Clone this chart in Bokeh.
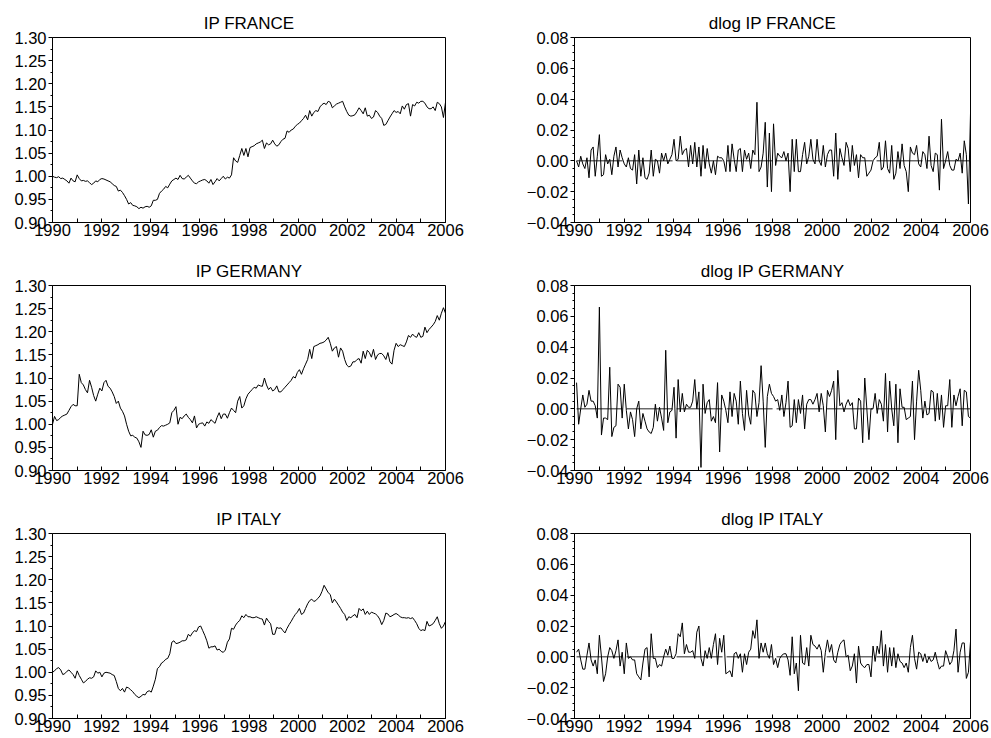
import numpy as np
from bokeh.plotting import figure
from bokeh.layouts import gridplot
from bokeh.models import FixedTicker, CustomJSTickFormatter, Range1d
from bokeh.embed import file_html
from bokeh.resources import INLINE

# ---------------- data (monthly, 1990M01-2005M12) ----------------
ip_france = [
    1.000, 0.998, 0.997, 0.999, 0.995, 0.996, 0.993, 0.990, 0.985, 0.996, 0.990, 0.988,
    1.003, 0.995, 0.990, 0.991, 0.989, 0.990, 0.986, 0.982, 0.985, 0.990, 0.988, 0.993,
    0.995, 0.994, 0.992, 0.990, 0.988, 0.984, 0.980, 0.978, 0.968, 0.970, 0.965, 0.958,
    0.950, 0.940, 0.943, 0.937, 0.936, 0.934, 0.930, 0.933, 0.931, 0.934, 0.935, 0.933,
    0.936, 0.948, 0.948, 0.950, 0.963, 0.968, 0.972, 0.978, 0.975, 0.983, 0.990, 0.993,
    0.996, 0.993, 1.002, 0.995, 0.994, 0.998, 1.002, 0.996, 0.990, 0.985, 0.984, 0.988,
    0.990, 0.992, 0.993, 0.990, 0.985, 0.993, 0.982, 0.988, 0.995, 0.990, 0.995, 1.000,
    0.994, 0.998, 0.996, 1.003, 1.040, 1.033, 1.030, 1.045, 1.060, 1.045, 1.060, 1.042,
    1.062, 1.064, 1.066, 1.070, 1.072, 1.074, 1.078, 1.060, 1.072, 1.068, 1.070, 1.078,
    1.070, 1.065, 1.068, 1.075, 1.080, 1.082, 1.098, 1.095, 1.100, 1.102, 1.108, 1.112,
    1.115, 1.120, 1.125, 1.132, 1.122, 1.142, 1.130, 1.138, 1.142, 1.140, 1.150, 1.155,
    1.158, 1.155, 1.162, 1.160, 1.148, 1.152, 1.156, 1.158, 1.160, 1.162, 1.150, 1.140,
    1.132, 1.130, 1.131, 1.133, 1.140, 1.148, 1.142, 1.135, 1.148, 1.130, 1.132, 1.125,
    1.128, 1.142, 1.138, 1.130, 1.125, 1.110, 1.112, 1.120, 1.128, 1.135, 1.142, 1.138,
    1.140, 1.135, 1.152, 1.145, 1.155, 1.157, 1.130, 1.155, 1.152, 1.160, 1.158, 1.162,
    1.162, 1.158, 1.150, 1.146, 1.146, 1.150, 1.142, 1.160, 1.157, 1.150, 1.127, 1.160,
]

ip_germany = [
    1.000, 1.017, 1.008, 1.010, 1.015, 1.018, 1.020, 1.022, 1.030, 1.038, 1.043, 1.040,
    1.040, 1.108, 1.090, 1.085, 1.075, 1.068, 1.095, 1.080, 1.062, 1.050, 1.065, 1.078,
    1.072, 1.090, 1.095, 1.082, 1.078, 1.070, 1.060, 1.045, 1.050, 1.035, 1.028, 1.018,
    1.000, 0.985, 0.975, 0.976, 0.972, 0.970, 0.962, 0.950, 0.985, 0.977, 0.976, 0.978,
    0.988, 0.972, 0.985, 0.987, 0.993, 0.997, 0.996, 0.998, 1.000, 1.003, 1.025, 1.030,
    1.038, 1.000, 1.015, 1.012, 1.018, 1.022, 1.015, 1.010, 1.003, 1.018, 0.992, 1.000,
    1.002, 1.003, 0.996, 1.005, 1.002, 1.010, 1.006, 1.002, 1.015, 1.025, 1.012, 1.022,
    1.022, 1.013, 1.025, 1.035, 1.030, 1.025, 1.050, 1.060, 1.035, 1.040, 1.055, 1.065,
    1.070, 1.075, 1.080, 1.078, 1.085, 1.083, 1.082, 1.100, 1.085, 1.075, 1.080, 1.072,
    1.075, 1.083, 1.070, 1.070, 1.075, 1.080, 1.085, 1.090, 1.095, 1.103, 1.100, 1.112,
    1.118, 1.108, 1.120, 1.130, 1.140, 1.162, 1.142, 1.168, 1.170, 1.172, 1.175, 1.176,
    1.178, 1.182, 1.188, 1.175, 1.158, 1.165, 1.168, 1.145, 1.165, 1.158, 1.140, 1.128,
    1.124, 1.126, 1.135, 1.135, 1.140, 1.142, 1.132, 1.158, 1.142, 1.160, 1.155, 1.145,
    1.162, 1.140, 1.150, 1.153, 1.153, 1.148, 1.140, 1.155, 1.135, 1.130, 1.160, 1.175,
    1.168, 1.172, 1.170, 1.168, 1.178, 1.192, 1.188, 1.195, 1.190, 1.188, 1.198, 1.188,
    1.190, 1.210, 1.198, 1.205, 1.210, 1.215, 1.222, 1.235, 1.225, 1.240, 1.252, 1.240,
]

ip_italy = [
    1.000, 1.003, 1.008, 1.010, 1.005, 0.995, 0.997, 1.002, 1.005, 1.000, 0.995, 0.987,
    1.003, 0.993, 0.985, 0.977, 0.980, 0.985, 0.988, 0.987, 0.990, 1.003, 0.998, 1.000,
    0.990, 0.998, 1.000, 0.999, 0.998, 0.995, 0.993, 0.980, 0.965, 0.960, 0.965, 0.957,
    0.968, 0.966, 0.962, 0.958, 0.952, 0.948, 0.945, 0.948, 0.952, 0.951, 0.958, 0.960,
    0.957, 0.970, 0.985, 1.008, 1.012, 1.020, 1.023, 1.028, 1.030, 1.040, 1.065, 1.068,
    1.062, 1.063, 1.065, 1.068, 1.068, 1.070, 1.082, 1.078, 1.085, 1.090, 1.088, 1.098,
    1.100, 1.090, 1.080, 1.068, 1.052, 1.055, 1.055, 1.057, 1.048, 1.050, 1.045, 1.043,
    1.048, 1.065, 1.072, 1.095, 1.093, 1.102, 1.108, 1.112, 1.122, 1.118, 1.125, 1.120,
    1.120, 1.118, 1.118, 1.120, 1.118, 1.116, 1.115, 1.102, 1.117, 1.110, 1.105, 1.082,
    1.082, 1.097, 1.095, 1.096, 1.090, 1.085, 1.095, 1.103, 1.110, 1.118, 1.125, 1.130,
    1.138, 1.125, 1.128, 1.138, 1.148, 1.155, 1.158, 1.153, 1.155, 1.160, 1.165, 1.175,
    1.188, 1.180, 1.172, 1.168, 1.150, 1.158, 1.152, 1.145, 1.138, 1.130, 1.125, 1.112,
    1.120, 1.118, 1.122, 1.125, 1.118, 1.138, 1.133, 1.137, 1.125, 1.132, 1.125, 1.130,
    1.128, 1.126, 1.122, 1.115, 1.103, 1.112, 1.128, 1.126, 1.120, 1.122, 1.125, 1.127,
    1.124, 1.120, 1.118, 1.118, 1.117, 1.118, 1.116, 1.118, 1.112, 1.105, 1.095, 1.090,
    1.092, 1.090, 1.110, 1.100, 1.102, 1.105, 1.112, 1.120, 1.105, 1.095, 1.100, 1.110,
]

# dlog series, 1990M02-2005M12
dlog_france = [
    0.000, -0.004, 0.003, -0.002, -0.005, 0.002, -0.011, 0.007, 0.009, -0.010, 0.003,
    0.017, -0.010, -0.009, 0.004, -0.002, 0.001, -0.009, 0.003, 0.009, -0.004, 0.007, 0.002,
    -0.002, -0.004, 0.002, -0.005, -0.006, 0.004, -0.015, 0.007, -0.010, 0.002, -0.011, -0.012,
    -0.008, 0.007, -0.010, 0.001, 0.000, -0.008, 0.005, 0.000, 0.005, -0.002, 0.001, 0.004,
    0.014, 0.000, 0.001, 0.016, 0.004, 0.007, 0.008, -0.004, 0.010, -0.002, 0.012, -0.004,
    0.009, -0.010, 0.010, -0.005, 0.008, -0.002, -0.008, 0.000, -0.009, 0.003, 0.002, 0.002,
    0.000, -0.007, 0.010, -0.007, 0.011, 0.001, -0.007, 0.007, 0.008, -0.007, 0.007, 0.001,
    0.005, -0.005, 0.007, 0.004, 0.038, -0.007, -0.004, 0.005, 0.025, -0.017, 0.018, -0.020,
    0.024, -0.003, 0.005, 0.003, 0.002, 0.006, 0.000, 0.005, -0.020, 0.014, -0.007, 0.014,
    -0.007, -0.007, 0.004, 0.012, -0.002, 0.003, 0.014, 0.001, -0.002, 0.014, 0.000, -0.003,
    0.010, -0.004, 0.004, 0.007, 0.007, -0.010, 0.018, -0.012, 0.008, 0.002, -0.003, 0.012,
    0.008, -0.007, 0.010, -0.003, 0.004, -0.011, 0.004, 0.002, 0.002, -0.010, -0.008, -0.006,
    0.000, 0.002, 0.003, 0.012, -0.006, -0.004, 0.013, -0.005, -0.008, 0.010, -0.012, -0.008,
    0.006, -0.005, 0.011, -0.003, -0.007, -0.020, 0.009, 0.005, 0.004, 0.010, -0.002, -0.004,
    0.006, 0.004, -0.005, 0.016, -0.003, -0.007, 0.005, 0.004, -0.019, 0.027, -0.005, 0.000,
    0.006, -0.003, -0.006, -0.006, 0.001, 0.000, 0.005, -0.008, 0.013, 0.004, -0.028, 0.031,
]

dlog_germany = [
    0.017, -0.010, 0.000, 0.009, 0.001, 0.003, 0.012, 0.005, 0.005, 0.002, -0.006,
    0.066, -0.017, -0.006, -0.006, -0.007, 0.027, -0.018, -0.012, -0.011, 0.016, 0.014, -0.006,
    0.016, -0.001, -0.013, -0.002, -0.007, -0.018, 0.000, 0.005, -0.013, -0.003, -0.008, -0.013,
    -0.015, -0.016, -0.012, 0.003, -0.008, 0.001, -0.006, -0.014, 0.038, -0.009, -0.002, -0.001,
    0.014, -0.019, 0.019, -0.002, 0.010, -0.002, 0.003, 0.001, 0.001, 0.005, 0.019, 0.000,
    0.011, -0.038, 0.016, -0.003, 0.004, 0.006, -0.008, -0.005, -0.009, 0.017, -0.028, 0.009,
    0.005, -0.001, -0.009, 0.011, -0.005, 0.010, 0.005, -0.010, 0.018, -0.003, -0.014, 0.012,
    -0.004, -0.010, 0.012, 0.010, -0.005, 0.004, 0.028, 0.005, -0.025, 0.008, 0.016, 0.010,
    0.008, 0.005, 0.006, -0.001, 0.009, -0.005, 0.004, 0.018, -0.012, -0.011, 0.006, -0.009,
    0.006, -0.003, 0.009, -0.013, 0.003, 0.006, 0.006, 0.003, 0.006, 0.010, -0.002, 0.010,
    0.002, -0.015, 0.012, 0.008, 0.012, 0.018, -0.020, 0.025, 0.002, 0.004, -0.002, 0.003,
    0.006, 0.002, 0.004, -0.013, -0.013, 0.007, 0.005, -0.022, 0.020, 0.000, -0.020, 0.000,
    0.000, 0.010, -0.003, 0.006, 0.003, -0.008, 0.023, -0.015, 0.018, 0.000, -0.011, 0.016,
    -0.022, 0.013, 0.001, 0.001, -0.007, -0.006, -0.005, 0.018, -0.020, 0.005, 0.025, 0.012,
    -0.006, 0.005, -0.004, -0.003, 0.012, 0.011, -0.008, 0.010, -0.007, 0.009, -0.012, 0.002,
    0.002, 0.019, -0.012, 0.009, 0.002, 0.008, 0.013, -0.011, 0.012, 0.011, -0.005, -0.006,
]

dlog_italy = [
    0.003, 0.005, -0.002, -0.008, -0.008, 0.001, 0.009, -0.002, -0.006, -0.002, -0.011,
    0.014, 0.000, -0.016, -0.011, 0.000, 0.006, 0.004, -0.001, 0.004, 0.011, -0.006, 0.003,
    -0.011, 0.009, -0.001, 0.000, -0.002, -0.002, -0.011, -0.013, -0.015, -0.004, 0.005, 0.006,
    -0.013, 0.015, -0.001, -0.001, -0.007, -0.005, -0.006, 0.000, 0.005, 0.001, 0.007, -0.001,
    -0.001, 0.002, 0.015, 0.013, 0.022, 0.002, 0.008, 0.003, 0.003, 0.004, -0.001, 0.016,
    0.020, -0.001, -0.006, 0.004, -0.001, 0.006, -0.001, 0.008, 0.015, -0.005, 0.012, 0.003,
    0.014, -0.011, -0.010, -0.009, -0.013, 0.002, 0.003, -0.001, 0.002, -0.010, 0.002, -0.005,
    0.003, 0.005, 0.017, 0.012, 0.024, -0.001, 0.009, 0.003, 0.009, 0.002, -0.001, 0.008,
    -0.005, -0.001, -0.007, -0.001, 0.001, 0.002, 0.002, -0.002, -0.012, 0.013, -0.011, -0.004,
    -0.022, 0.014, -0.004, -0.005, 0.006, -0.006, 0.014, 0.008, 0.007, 0.005, 0.008, 0.004,
    -0.010, 0.003, 0.011, 0.003, 0.008, -0.002, -0.004, 0.003, 0.008, 0.010, 0.011, 0.000,
    0.001, -0.009, -0.006, 0.002, -0.017, 0.007, -0.004, -0.006, -0.007, -0.005, -0.005, -0.013,
    0.007, -0.003, 0.007, 0.002, 0.017, -0.006, 0.008, -0.010, 0.006, -0.006, 0.006, -0.007,
    0.002, -0.003, -0.004, -0.007, -0.004, -0.010, 0.006, 0.014, -0.001, -0.008, 0.003, 0.002,
    -0.003, 0.002, -0.004, 0.000, -0.003, -0.002, 0.003, -0.003, -0.008, -0.006, -0.006, 0.004,
    0.000, -0.005, -0.003, 0.004, 0.018, -0.010, 0.003, 0.009, 0.009, -0.014, -0.010, 0.010,
]

titles_level = ["IP FRANCE", "IP GERMANY", "IP ITALY"]
titles_dlog = ["dlog IP FRANCE", "dlog IP GERMANY", "dlog IP ITALY"]
year_ticks = list(range(1990, 2007, 2))
year_minor = list(range(1991, 2006, 2))
level_ticks = [0.90, 0.95, 1.00, 1.05, 1.10, 1.15, 1.20, 1.25, 1.30]
dlog_ticks = [-0.04, -0.02, 0.00, 0.02, 0.04, 0.06, 0.08]

# dates of the monthly observations across the 1990-2006 axis
t_level = 1990 + np.arange(len(ip_france)) * 16.0 / (len(ip_france) - 1)
t_dlog = t_level[1:]

FONT = "Liberation Sans"
fmt = CustomJSTickFormatter(code="""
    if (Math.abs(tick) < 1e-9) { return "0.00"; }
    return (tick < 0 ? "\\u2212" : "") + Math.abs(tick).toFixed(2);
""")


def make_fig(title, x, y, yr, yticks, yminor, borders, size, zero=False):
    left, top, right, bottom = borders
    fw, fh = size
    p = figure(width=left + fw + right, height=top + fh + bottom,
               output_backend="svg", toolbar_location=None,
               x_range=Range1d(1990, 2006), y_range=Range1d(*yr),
               min_border_left=left, min_border_right=right,
               min_border_top=top, min_border_bottom=bottom,
               title=title)
    p.title.align = "center"
    p.title.text_font = FONT
    p.title.text_font_size = "17px"
    p.title.text_font_style = "normal"
    p.title.text_color = "#000000"
    p.title.standoff = 9
    p.grid.visible = False
    p.outline_line_color = "#000000"
    p.outline_line_width = 1
    p.background_fill_color = "white"
    p.border_fill_color = "white"

    xa = p.xaxis[0]
    xa.ticker = FixedTicker(ticks=year_ticks, minor_ticks=year_minor)
    xa.major_tick_in = 4
    xa.major_tick_out = 0
    xa.minor_tick_in = 4
    xa.minor_tick_out = 0
    xa.major_label_standoff = 1
    xa.axis_line_color = "#000000"
    xa.major_tick_line_color = "#000000"
    xa.minor_tick_line_color = "#000000"
    xa.major_label_text_font = FONT
    xa.major_label_text_font_size = "16.5px"
    xa.major_label_text_color = "#000000"

    ya = p.yaxis[0]
    ya.ticker = FixedTicker(ticks=yticks, minor_ticks=yminor)
    ya.formatter = fmt
    ya.major_tick_in = 0
    ya.major_tick_out = 4
    ya.minor_tick_in = 0
    ya.minor_tick_out = 2
    ya.major_label_standoff = 2
    ya.axis_line_color = "#000000"
    ya.major_tick_line_color = "#000000"
    ya.minor_tick_line_color = "#000000"
    ya.major_label_text_font = FONT
    ya.major_label_text_font_size = "16.5px"
    ya.major_label_text_color = "#000000"

    if zero:
        p.line([x[0], x[-1]], [0, 0], line_color="#222222", line_width=1,
               line_dash="46 4")
    p.line(x, y, line_color="#000000", line_width=1)
    return p


level_minor = list(np.round(np.arange(0.90, 1.30, 0.025), 4))
dlog_minor = list(np.round(np.arange(-0.04, 0.08, 0.005), 4))

# (top border, bottom border) and frame height of each row
row_borders = [(37, 33), (29, 33), (29, 20)]
row_heights = [185, 186, 186]
levels = [ip_france, ip_germany, ip_italy]
dlogs = [dlog_france, dlog_germany, dlog_italy]

rows = []
for i in range(3):
    top, bottom = row_borders[i]
    fh = row_heights[i]
    pl = make_fig(titles_level[i], t_level, levels[i], (0.90, 1.30), level_ticks,
                  level_minor, (52, top, 69, bottom), (393, fh))
    pr = make_fig(titles_dlog[i], t_dlog, dlogs[i], (-0.04, 0.08), dlog_ticks,
                  dlog_minor, (60, top, 21, bottom), (396, fh), zero=True)
    rows.append([pl, pr])

grid = gridplot(rows, toolbar_location=None)
open("out.html", "w").write(file_html(grid, INLINE))
